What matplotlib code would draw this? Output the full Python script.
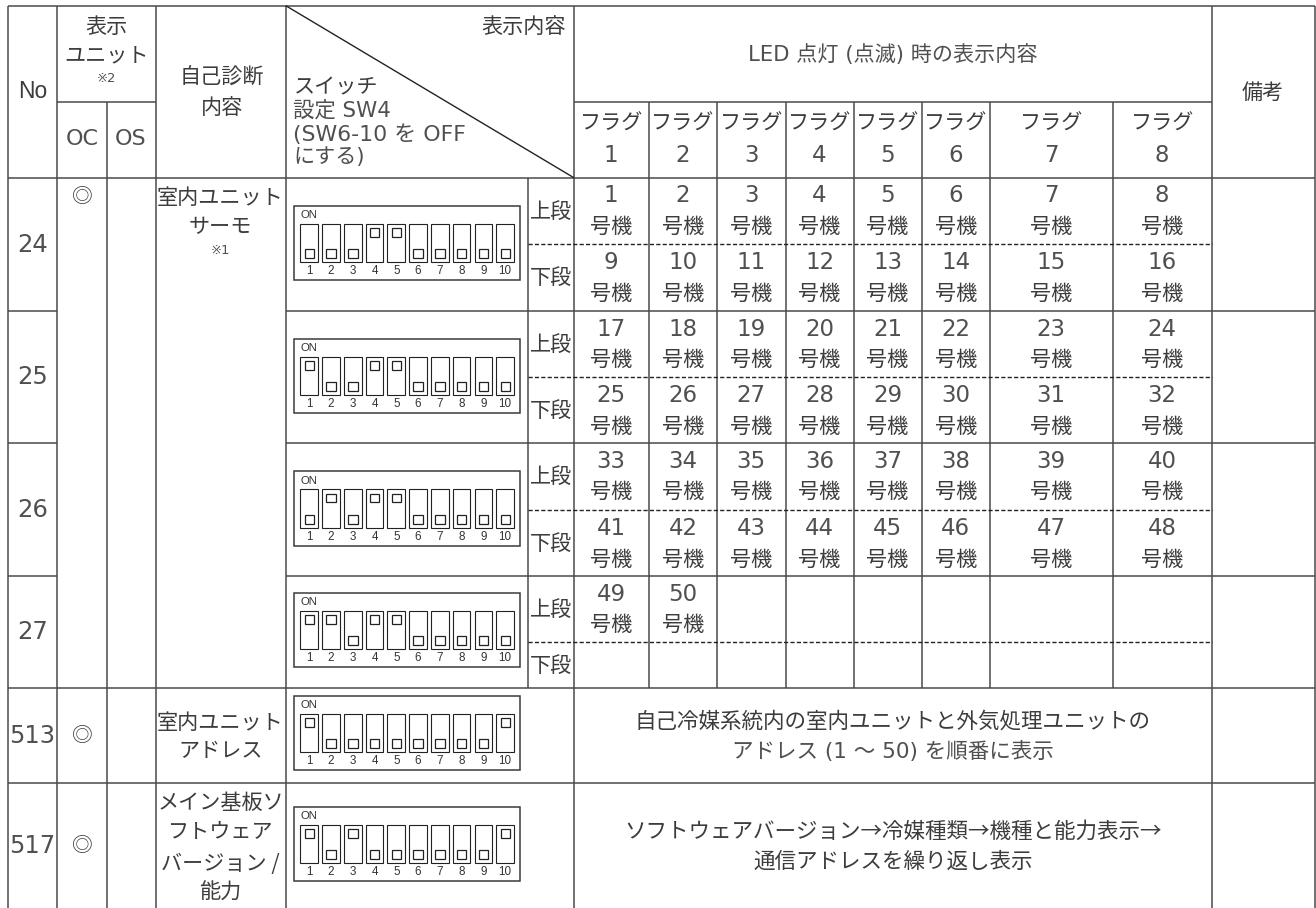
import matplotlib
matplotlib.use("Agg")
import matplotlib.pyplot as plt
from matplotlib.patches import Rectangle

plt.rcParams['font.family'] = ['Noto Sans CJK JP', 'DejaVu Sans']
LATIN_FIRST = ['DejaVu Sans', 'Noto Sans CJK JP']

# ---------- content ----------
NUMBERS = ["24", "25", "26", "27", "513", "517"]
FLAG_LABELS = ["1", "2", "3", "4", "5", "6", "7", "8"]
SWITCH_LABELS = ["1", "2", "3", "4", "5", "6", "7", "8", "9", "10"]
SWITCHES_24 = [0, 0, 0, 1, 1, 0, 0, 0, 0, 0]
SWITCHES_25 = [1, 0, 0, 1, 1, 0, 0, 0, 0, 0]
SWITCHES_26 = [0, 1, 0, 1, 1, 0, 0, 0, 0, 0]
SWITCHES_27 = [1, 1, 0, 1, 1, 0, 0, 0, 0, 0]
SWITCHES_513 = [1, 0, 0, 0, 0, 0, 0, 0, 0, 1]
SWITCHES_517 = [1, 0, 1, 0, 0, 0, 0, 0, 0, 1]
UNITS_24 = [["1", "2", "3", "4", "5", "6", "7", "8"],
            ["9", "10", "11", "12", "13", "14", "15", "16"]]
UNITS_25 = [["17", "18", "19", "20", "21", "22", "23", "24"],
            ["25", "26", "27", "28", "29", "30", "31", "32"]]
UNITS_26 = [["33", "34", "35", "36", "37", "38", "39", "40"],
            ["41", "42", "43", "44", "45", "46", "47", "48"]]
UNITS_27 = [["49", "50"], []]
DESC_513 = ["自己冷媒系統内の室内ユニットと外気処理ユニットの", "アドレス (1 ～ 50) を順番に表示"]
DESC_517 = ["ソフトウェアバージョン→冷媒種類→機種と能力表示→", "通信アドレスを繰り返し表示"]

# ---------- layout (pixels) ----------
W, H = 1316, 908
XL, XOC, XOS, XSELF, XSW, XTIER, XFLAG, XMEMO, XR = 8.4, 57.4, 106.8, 155.8, 286.3, 528, 573.5, 1212, 1315
FLAG_EDGES = [573.5, 649, 717, 785.5, 853.5, 921.5, 990, 1112.5, 1212]
YT, YH1, YH2 = 6, 102, 177.5
ROW_TOPS = [177.5, 310.7, 443.3, 576, 687.7, 782.7]
ROW_MIDS = [244, 377, 509.7, 642.3]
NO_Y = [245, 376.7, 510, 631.7, 736, 845.7]
DIP_TOPS = [205.7, 338.7, 471.3, 592.7, 695.7, 806.7]
INK, LINE, THIN = '#3c3c3c', '#4a4a4a', '#505050'

fig = plt.figure(figsize=(W / 100, H / 100), dpi=100)
ax = fig.add_axes([0, 0, 1, 1])
ax.set_xlim(0, W)
ax.set_ylim(H, 0)
ax.axis('off')


def hl(y, x0, x1):
    ax.plot([x0, x1], [y, y], color=LINE, lw=1.1, solid_capstyle='butt')


def vl(x, y0, y1):
    ax.plot([x, x], [y0, y1], color=LINE, lw=1.1, solid_capstyle='butt')


def tx(x, y, s, size=15.2, ha='center'):
    ax.text(x, y + 1, s, fontsize=size, ha=ha, va='center', color=INK)


def lt(x, y, s, size=16.5, ha='center'):
    ax.text(x, y, s, fontsize=size, ha=ha, va='center', color=THIN, family=LATIN_FIRST)


# grid
hl(YT, XL, XR)
hl(YH1, XOC, XSELF)
hl(YH1, XFLAG, XMEMO)
hl(YH2, XL, XR)
for y in ROW_TOPS[1:4]:
    hl(y, XL, XOC)
    hl(y, XSW, XR)
for y in ROW_TOPS[4:]:
    hl(y, XL, XR)
for x in [XL, XOC, XSELF, XSW, XFLAG, XMEMO, XR]:
    vl(x, YT, H)
vl(XOS, YH1, H)
vl(XTIER, YH2, ROW_TOPS[4])
for x in FLAG_EDGES[1:-1]:
    vl(x, YH1, ROW_TOPS[4])
for y in ROW_MIDS:
    ax.plot([XTIER, XMEMO], [y, y], color='#222222', lw=1.0, dashes=(3.0, 1.6))
ax.plot([XSW, XFLAG], [YT, YH2], color='#222222', lw=1.0)

# header
ax.text(33, 92, "No", fontsize=16.5, family='Liberation Sans', ha='center', va='center', color=INK)
tx(106.4, 25.7, "表示")
tx(106.4, 54, "ユニット")
lt(106.4, 79, "※2", 9.5)
lt(82.3, 139.3, "OC", 16)
lt(131, 139.3, "OS", 16)
tx(222, 77, "自己診断")
tx(222, 107, "内容")
tx(565.6, 26, "表示内容", ha='right')
tx(294, 86, "スイッチ", ha='left')
lt(293, 111, "設定 SW4", 15.4, ha='left')
lt(293, 134.5, "(SW6-10 を OFF", 15.8, ha='left')
lt(293, 157.5, "にする)", 15.2, ha='left')
lt(893, 54.5, "LED 点灯 (点滅) 時の表示内容", 15.2)
tx(1263, 91.7, "備考")
centers = [(a + b) / 2 for a, b in zip(FLAG_EDGES[:-1], FLAG_EDGES[1:])]
for cx, lab in zip(centers, FLAG_LABELS):
    tx(cx, 123, "フラグ")
    lt(cx, 155, lab)

# first columns
for y, no in zip(NO_Y, NUMBERS):
    lt(32.5, y, no, 17.5)
for y in [196.7, 736, 845.7]:
    tx(82, y - 1, "◎", 15)
tx(220.5, 196.7, "室内ユニット")
tx(220.5, 225.7, "サーモ")
lt(220.5, 250, "※1", 9.5)
tx(220.5, 721.7, "室内ユニット")
tx(220.5, 750, "アドレス")
tx(220.5, 801.7, "メイン基板ソ")
tx(220.5, 830.7, "フトウェア")
tx(220.5, 862.7, "バージョン /")
tx(220.5, 891.7, "能力")

# tiers and unit numbers
tier_y = [(210.7, 277), (343.7, 410), (476.3, 543), (608.7, 665)]
all_units = [UNITS_24, UNITS_25, UNITS_26, UNITS_27]
for top, (yu, yl), units in zip(ROW_TOPS[:4], tier_y, all_units):
    tx(551, yu, "上段")
    tx(551, yl, "下段")
    for cx, lab in zip(centers, units[0]):
        lt(cx, top + 18.5, lab)
        tx(cx, top + 48, "号機")
    for cx, lab in zip(centers, units[1]):
        lt(cx, top + 85.2, lab)
        tx(cx, top + 115.5, "号機")

# descriptions
tx(893, 721, DESC_513[0], 15.5)
lt(893, 751.5, DESC_513[1], 15.5)
tx(892.7, 830.7, DESC_517[0], 15.5)
tx(892.7, 861, DESC_517[1], 15.5)


# DIP switches
def dip(top, states):
    ax.add_patch(Rectangle((293.8, top), 226.3, 74.3, fill=False, ec='#3a3a3a', lw=1.1))
    ax.text(300.4, top + 9.3, "ON", fontsize=8.2, family='Liberation Sans', ha='left', va='center', color='#333333')
    for i, (lab, on) in enumerate(zip(SWITCH_LABELS, states)):
        x = 300.4 + i * 21.77
        ax.add_patch(Rectangle((x, top + 18), 17.6, 38.3, fill=False, ec='#222222', lw=0.8))
        sy = top + 22.3 if on else top + 43.7
        ax.add_patch(Rectangle((x + 4.2, sy), 9.4, 8.6, fill=False, ec='#222222', lw=0.9))
        ax.text(x + 8.8, top + 65.3, lab, fontsize=8.4, family='Liberation Sans', ha='center', va='center', color='#333333')


for top, st in zip(DIP_TOPS, [SWITCHES_24, SWITCHES_25, SWITCHES_26, SWITCHES_27, SWITCHES_513, SWITCHES_517]):
    dip(top, st)

fig.savefig("out.png", dpi=100)
